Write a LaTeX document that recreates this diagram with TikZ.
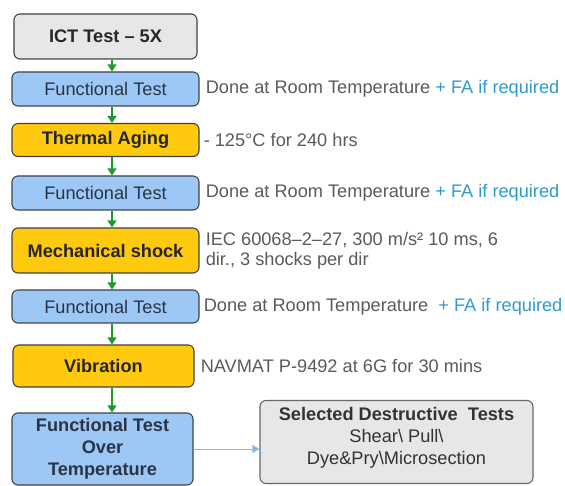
\documentclass[tikz,border=0pt]{standalone}
\usepackage{fontspec}
\setmainfont{Liberation Sans}
\usepackage{xcolor}
\usepackage{tikz}
\usetikzlibrary{arrows.meta, positioning}
\definecolor{boxgray}{HTML}{E7E7E7}
\definecolor{boxblue}{HTML}{9DC8F5}
\definecolor{boxyellow}{HTML}{FFC90E}
\definecolor{linegray}{HTML}{3E4348}
\definecolor{noteblue}{HTML}{2F9ACB}
\definecolor{notegray}{HTML}{5A5A5A}
\definecolor{flowgreen}{HTML}{1E9A2E}
\definecolor{linkblue}{HTML}{8DB6E0}
\definecolor{boxtext}{HTML}{2A3446}
\tikzstyle{stage} = [rectangle, rounded corners=6pt, draw=linegray, line width=1.1pt, align=center, inner sep=0pt, font=\fontsize{18.2}{22}\selectfont]
\tikzstyle{ftest} = [stage, fill=boxblue, text=boxtext, minimum width=187pt, minimum height=34pt]
\tikzstyle{stress} = [stage, fill=boxyellow, text=black!85, font=\fontsize{18.2}{22}\selectfont\bfseries, minimum width=187pt]
\tikzstyle{note} = [anchor=west, align=left, inner sep=1pt, text=notegray, font=\fontsize{18.2}{20}\selectfont]
\tikzstyle{arrow} = [line width=1.4pt, draw=flowgreen, -{Triangle[width=9pt,length=7pt]}]

\begin{document}
\begin{tikzpicture}[x=1pt, y=-1pt]
\useasboundingbox (0,0) rectangle (565,486);
% test sequence
\node[stage, fill=boxgray, text=black!85, font=\fontsize{18.2}{22}\selectfont\bfseries, minimum width=183pt, minimum height=45pt] (ict) at (105.5,36.5) {ICT Test -- 5X};
\node[ftest] (ft1) at (105.5,89) {Functional Test};
\node[stress, minimum height=33pt] (aging) at (105.5,140) {Thermal Aging};
\node[ftest] (ft2) at (105.5,193) {Functional Test};
\node[stress, minimum height=45pt] (shock) at (105.5,250.5) {Mechanical shock};
\node[ftest, minimum height=33pt] (ft3) at (105.5,306.5) {Functional Test};
\node[stress, minimum width=181pt, minimum height=42pt] (vib) at (103.5,366) {Vibration};
\node[ftest, font=\fontsize{18.2}{22}\selectfont\bfseries, minimum width=181pt, minimum height=72pt] (ftot) at (102.5,449) {Functional Test\\Over\\Temperature};
\node[stage, fill=boxgray, draw=linegray!80, text=black!80, minimum width=273pt, minimum height=83pt, text depth=12pt] (dest) at (396.5,442)
  {\textbf{Selected Destructive\ \ Tests}\\Shear\textbackslash{} Pull\textbackslash\\Dye\&Pry\textbackslash Microsection};

% notes
\node[note, right=5pt of ft1] (n1) {Done at Room Temperature \textcolor{noteblue}{+ FA if required}};
\node[note, right=3pt of aging] (n2) {- 125°C for 240 hrs};
\node[note, right=5pt of ft2] (n3) {Done at Room Temperature \textcolor{noteblue}{+ FA if required}};
\node[note, right=5pt of shock] (n4) {IEC 60068--2--27, 300 m/s² 10 ms, 6\\dir., 3 shocks per dir};
\node[note, right=3pt of ft3] (n5) {Done at Room Temperature \ \textcolor{noteblue}{+ FA if required}};
\node[note, right=5pt of vib] (n6) {NAVMAT P-9492 at 6G for 30 mins};

% flow
\coordinate (ax) at (112,0);
\draw[arrow] (ict.south -| ax) -- (ft1.north -| ax);
\draw[arrow] (ft1.south -| ax) -- (aging.north -| ax);
\draw[arrow] (aging.south -| ax) -- (ft2.north -| ax);
\draw[arrow] (ft2.south -| ax) -- (shock.north -| ax);
\draw[arrow] (shock.south -| ax) -- (ft3.north -| ax);
\draw[arrow] (ft3.south -| ax) -- (vib.north -| ax);
\draw[arrow] (vib.south -| ax) -- (ftot.north -| ax);
\draw[line width=0.9pt, draw=linkblue, -{Triangle[width=8pt,length=7pt]}] (ftot.east) -- (dest.west |- ftot.east);
\end{tikzpicture}
\end{document}
